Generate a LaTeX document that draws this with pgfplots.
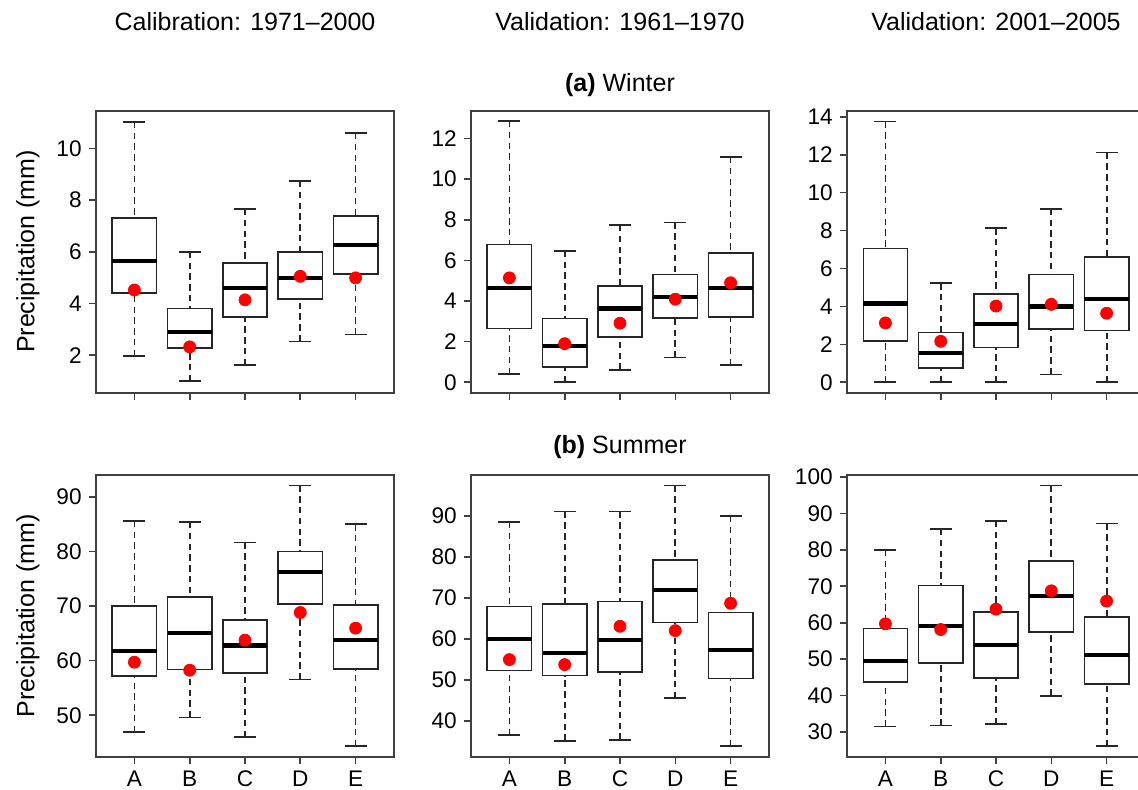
\documentclass[border=0pt]{standalone}
\usepackage{fontspec}
\setmainfont{Liberation Sans}
\usepackage{pgfplots}
\usepackage{pgfplotstable}
\pgfplotsset{compat=1.18}
\usepgfplotslibrary{statistics}

% columns: position, lower whisker, lower quartile, median, upper quartile, upper whisker, mean
\pgfplotstableread{
pos lw lq med uq uw mean
1 1.96 4.41 5.63 7.30 11.03 4.52
2 0.99 2.27 2.91 3.80 6.00 2.32
3 1.61 3.48 4.61 5.56 7.66 4.14
4 2.53 4.18 4.98 6.00 8.74 5.05
5 2.80 5.15 6.25 7.38 10.60 4.99
}\wca
\pgfplotstableread{
pos lw lq med uq uw mean
1 0.41 2.64 4.63 6.79 12.87 5.14
2 0.00 0.75 1.79 3.14 6.47 1.90
3 0.61 2.23 3.63 4.75 7.74 2.91
4 1.21 3.16 4.21 5.31 7.87 4.09
5 0.84 3.22 4.63 6.38 11.09 4.90
}\wvb
\pgfplotstableread{
pos lw lq med uq uw mean
1 0.00 2.19 4.16 7.06 13.76 3.13
2 0.00 0.75 1.53 2.62 5.23 2.16
3 0.00 1.84 3.09 4.65 8.13 4.02
4 0.42 2.81 4.00 5.69 9.15 4.11
5 0.00 2.72 4.41 6.62 12.12 3.64
}\wvc
\pgfplotstableread{
pos lw lq med uq uw mean
1 46.89 57.14 61.73 69.97 85.60 59.71
2 49.56 58.36 65.08 71.62 85.36 58.24
3 46.02 57.75 62.75 67.40 81.62 63.74
4 56.53 70.39 76.26 79.98 92.07 68.80
5 44.32 58.48 63.80 70.15 84.99 65.94
}\sca
\pgfplotstableread{
pos lw lq med uq uw mean
1 36.49 52.27 59.90 67.95 88.54 54.95
2 35.12 51.05 56.59 68.54 91.05 53.73
3 35.37 51.95 59.76 69.17 91.13 63.07
4 45.52 63.98 71.95 79.27 97.46 62.02
5 33.81 50.32 57.39 66.49 90.00 68.69
}\svb
\pgfplotstableread{
pos lw lq med uq uw mean
1 31.47 43.74 49.52 58.40 79.94 59.69
2 31.74 48.88 59.05 70.22 85.71 58.13
3 32.10 44.75 53.82 62.90 88.00 63.72
4 39.90 57.40 67.38 77.00 97.70 68.76
5 26.07 43.10 51.16 61.53 87.27 65.93
}\svc

\pgfplotsset{
  rbox/.style={
    scale only axis, width=149.3pt, height=140.85pt,
    anchor=south west,
    xmin=0.3, xmax=5.7,
    xtick={1,2,3,4,5}, xticklabels={A,B,C,D,E},
    xtick pos=left, ytick pos=left,
    tick align=outside, major tick length=3.5pt,
    axis line style={black!75, line width=0.9pt},
    every tick/.style={black!75, line width=0.8pt},
    tick label style={font=\fontsize{11.3}{13}\selectfont},
    /pgf/number format/assume math mode=true,
    boxplot/draw direction=y,
    boxplot/box extend=0.8, boxplot/whisker extend=0.4,
    boxplot/every median/.style={line width=2.1pt, black},
    boxplot/draw/lower whisker/.code={%
      \draw[black!85, line width=0.9pt, dash pattern=on 3.2pt off 2.2pt]
        (boxplot box cs:\pgfplotsboxplotvalue{lower whisker},0.5) --
        (boxplot box cs:\pgfplotsboxplotvalue{lower quartile},0.5);
      \draw[black!85, line width=0.8pt, solid]
        (boxplot whisker cs:\pgfplotsboxplotvalue{lower whisker},0) --
        (boxplot whisker cs:\pgfplotsboxplotvalue{lower whisker},1);
    },
    boxplot/draw/upper whisker/.code={%
      \draw[black!85, line width=0.9pt, dash pattern=on 3.2pt off 2.2pt]
        (boxplot box cs:\pgfplotsboxplotvalue{upper whisker},0.5) --
        (boxplot box cs:\pgfplotsboxplotvalue{upper quartile},0.5);
      \draw[black!85, line width=0.8pt, solid]
        (boxplot whisker cs:\pgfplotsboxplotvalue{upper whisker},0) --
        (boxplot whisker cs:\pgfplotsboxplotvalue{upper whisker},1);
    },
  },
  toprow/.style={xticklabels={}},
}

\newcommand{\panel}[1]{%
  \pgfplotsinvokeforeach{0,1,2,3,4}{%
    \pgfplotstablegetelem{##1}{lw}\of#1\let\vlw\pgfplotsretval
    \pgfplotstablegetelem{##1}{lq}\of#1\let\vlq\pgfplotsretval
    \pgfplotstablegetelem{##1}{med}\of#1\let\vmed\pgfplotsretval
    \pgfplotstablegetelem{##1}{uq}\of#1\let\vuq\pgfplotsretval
    \pgfplotstablegetelem{##1}{uw}\of#1\let\vuw\pgfplotsretval
    \edef\doplot{\noexpand\addplot[black!85, solid, line width=0.8pt,
      boxplot prepared={draw position=\the\numexpr##1+1\relax,
        lower whisker=\vlw, lower quartile=\vlq, median=\vmed,
        upper quartile=\vuq, upper whisker=\vuw}] coordinates {};}%
    \doplot
  }
  \addplot[only marks, mark=*, mark size=3pt, red,
    mark options={draw=red, fill=red}] table[x=pos, y=mean] {#1};
}

\begin{document}
\begin{tikzpicture}
\begin{axis}[rbox, toprow, at={(47.85pt,198.65pt)},
  ymin=0.546, ymax=11.45, ytick={2,4,...,10}]
\panel{\wca}
\end{axis}
\begin{axis}[rbox, toprow, at={(235.35pt,198.65pt)},
  ymin=-0.514, ymax=13.36, ytick={0,2,...,12}]
\panel{\wvb}
\end{axis}
\begin{axis}[rbox, toprow, at={(423.35pt,198.65pt)},
  ymin=-0.55, ymax=14.31, ytick={0,2,...,14}]
\panel{\wvc}
\end{axis}
\begin{axis}[rbox, at={(47.85pt,16.65pt)},
  ymin=42.41, ymax=93.98, ytick={50,60,...,90}]
\panel{\sca}
\end{axis}
\begin{axis}[rbox, at={(235.35pt,16.65pt)},
  ymin=31.26, ymax=100.0, ytick={40,50,...,90}]
\panel{\svb}
\end{axis}
\begin{axis}[rbox, at={(423.35pt,16.65pt)},
  ymin=23.2, ymax=100.57, ytick={30,40,...,100}]
\panel{\svc}
\end{axis}

\begin{scope}[every node/.style={font=\fontsize{12.5}{15}\selectfont}]
\node at (122.5pt,384pt) {Calibration: 1971--2000};
\node at (310pt,384pt) {Validation: 1961--1970};
\node at (498pt,384pt) {Validation: 2001--2005};
\node at (310pt,352.5pt) {\textbf{(a)} Winter};
\node at (310pt,171.5pt) {\textbf{(b)} Summer};
\node[rotate=90] at (14pt,269.2pt) {Precipitation (mm)};
\node[rotate=90] at (14pt,87.1pt) {Precipitation (mm)};
\end{scope}

\pgfresetboundingbox
\path[use as bounding box] (0,0) rectangle (569pt,395pt);
\end{tikzpicture}
\end{document}
